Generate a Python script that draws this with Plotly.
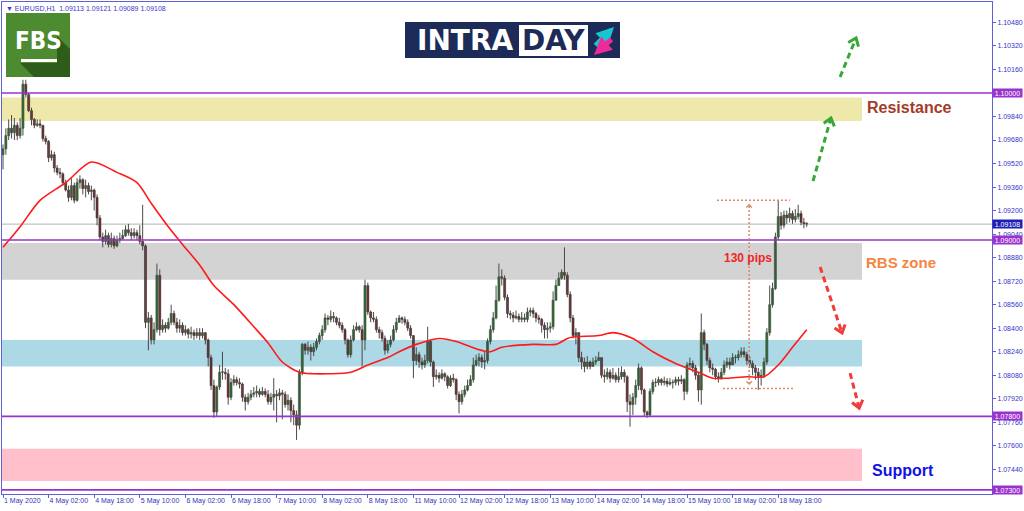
import math
import plotly.graph_objects as go

# ---------------- data (EURUSD H1) ----------------
first_open = 1.0958
close = [
    1.0962, 1.0971, 1.0976, 1.0973, 1.0978, 1.0971, 1.0976, 1.1006, 1.0999, 1.0988,
    1.0982, 1.0978, 1.0979, 1.0978, 1.0969, 1.0967, 1.0956, 1.0958, 1.0949, 1.0946,
    1.0945, 1.0939, 1.0934, 1.0929, 1.0937, 1.0927, 1.0939, 1.0941, 1.0935, 1.0937,
    1.0933, 1.0934, 1.0929, 1.0915, 1.0902, 1.0899, 1.0903, 1.0897, 1.0901, 1.0896,
    1.0900, 1.0901, 1.0903, 1.0907, 1.0905, 1.0903, 1.0905, 1.0903, 1.0899, 1.0896,
    1.0844, 1.0847, 1.0832, 1.0839, 1.0876, 1.0839, 1.0842, 1.0840, 1.0844, 1.0850,
    1.0844, 1.0840, 1.0842, 1.0837, 1.0839, 1.0836, 1.0837, 1.0835, 1.0837, 1.0835,
    1.0837, 1.0832, 1.0820, 1.0801, 1.0783, 1.0800, 1.0810, 1.0810, 1.0809, 1.0793,
    1.0803, 1.0805, 1.0803, 1.0802, 1.0793, 1.0790, 1.0793, 1.0795, 1.0796, 1.0797,
    1.0795, 1.0797, 1.0795, 1.0790, 1.0793, 1.0795, 1.0794, 1.0796, 1.0795, 1.0788,
    1.0791, 1.0784, 1.0781, 1.0774, 1.0810, 1.0829, 1.0825, 1.0827, 1.0824, 1.0827,
    1.0831, 1.0835, 1.0839, 1.0847, 1.0846, 1.0848, 1.0847, 1.0844, 1.0842, 1.0839,
    1.0832, 1.0822, 1.0832, 1.0839, 1.0841, 1.0839, 1.0832, 1.0869, 1.0851, 1.0847,
    1.0846, 1.0839, 1.0837, 1.0833, 1.0825, 1.0829, 1.0832, 1.0839, 1.0844, 1.0847,
    1.0846, 1.0844, 1.0840, 1.0835, 1.0818, 1.0822, 1.0817, 1.0815, 1.0818, 1.0831,
    1.0817, 1.0807, 1.0808, 1.0806, 1.0809, 1.0807, 1.0801, 1.0806, 1.0805, 1.0795,
    1.0790, 1.0795, 1.0798, 1.0801, 1.0805, 1.0815, 1.0818, 1.0820, 1.0817, 1.0818,
    1.0831, 1.0839, 1.0847, 1.0859, 1.0875, 1.0874, 1.0861, 1.0850, 1.0849, 1.0847,
    1.0848, 1.0846, 1.0847, 1.0846, 1.0851, 1.0852, 1.0850, 1.0847, 1.0846, 1.0842,
    1.0839, 1.0840, 1.0841, 1.0859, 1.0869, 1.0874, 1.0878, 1.0876, 1.0863, 1.0847,
    1.0835, 1.0837, 1.0820, 1.0817, 1.0814, 1.0817, 1.0814, 1.0817, 1.0818, 1.0820,
    1.0808, 1.0807, 1.0810, 1.0806, 1.0808, 1.0805, 1.0807, 1.0810, 1.0807, 1.0790,
    1.0788, 1.0793, 1.0801, 1.0813, 1.0798, 1.0783, 1.0781, 1.0797, 1.0803, 1.0803,
    1.0805, 1.0803, 1.0804, 1.0802, 1.0803, 1.0803, 1.0805, 1.0804, 1.0805, 1.0797,
    1.0815, 1.0816, 1.0813, 1.0808, 1.0798, 1.0837, 1.0829, 1.0818, 1.0813, 1.0812,
    1.0807, 1.0806, 1.0810, 1.0815, 1.0817, 1.0815, 1.0820, 1.0820, 1.0822, 1.0824,
    1.0822, 1.0818, 1.0816, 1.0813, 1.0810, 1.0807, 1.0808, 1.0817, 1.0837, 1.0856,
    1.0867, 1.0902, 1.0916, 1.0910, 1.0917, 1.0915, 1.0918, 1.0914, 1.0916, 1.0918,
    1.0912, 1.0911, 1.09108,
]
high = [
    1.0965, 1.0976, 1.0982, 1.0985, 1.0983, 1.0980, 1.0983, 1.1009, 1.1009, 1.1000,
    1.0990, 1.0983, 1.0982, 1.0982, 1.0973, 1.0971, 1.0968, 1.0961, 1.0960, 1.0951,
    1.0949, 1.0946, 1.0941, 1.0937, 1.0942, 1.0939, 1.0942, 1.0944, 1.0942, 1.0941,
    1.0939, 1.0937, 1.0935, 1.0931, 1.0917, 1.0905, 1.0907, 1.0905, 1.0905, 1.0903,
    1.0903, 1.0905, 1.0907, 1.0910, 1.0911, 1.0908, 1.0908, 1.0907, 1.0910, 1.0924,
    1.0897, 1.0851, 1.0849, 1.0844, 1.0884, 1.0880, 1.0846, 1.0844, 1.0847, 1.0856,
    1.0852, 1.0847, 1.0846, 1.0844, 1.0842, 1.0840, 1.0841, 1.0839, 1.0840, 1.0840,
    1.0840, 1.0837, 1.0833, 1.0822, 1.0805, 1.0801, 1.0815, 1.0824, 1.0813, 1.0812,
    1.0806, 1.0808, 1.0807, 1.0806, 1.0803, 1.0795, 1.0796, 1.0798, 1.0800, 1.0801,
    1.0799, 1.0800, 1.0799, 1.0798, 1.0796, 1.0806, 1.0798, 1.0799, 1.0798, 1.0797,
    1.0795, 1.0793, 1.0788, 1.0784, 1.0812, 1.0830, 1.0830, 1.0831, 1.0829, 1.0830,
    1.0833, 1.0837, 1.0842, 1.0850, 1.0849, 1.0852, 1.0851, 1.0848, 1.0847, 1.0844,
    1.0840, 1.0833, 1.0835, 1.0842, 1.0844, 1.0842, 1.0842, 1.0873, 1.0871, 1.0852,
    1.0851, 1.0848, 1.0841, 1.0839, 1.0835, 1.0832, 1.0835, 1.0842, 1.0847, 1.0849,
    1.0848, 1.0848, 1.0846, 1.0842, 1.0835, 1.0827, 1.0824, 1.0820, 1.0822, 1.0841,
    1.0832, 1.0818, 1.0812, 1.0810, 1.0812, 1.0810, 1.0808, 1.0808, 1.0809, 1.0806,
    1.0797, 1.0798, 1.0801, 1.0805, 1.0808, 1.0820, 1.0822, 1.0823, 1.0822, 1.0824,
    1.0833, 1.0842, 1.0851, 1.0869, 1.0884, 1.0880, 1.0876, 1.0863, 1.0852, 1.0851,
    1.0852, 1.0850, 1.0851, 1.0850, 1.0854, 1.0854, 1.0854, 1.0851, 1.0849, 1.0847,
    1.0844, 1.0844, 1.0844, 1.0865, 1.0873, 1.0878, 1.0880, 1.0895, 1.0878, 1.0865,
    1.0849, 1.0840, 1.0837, 1.0824, 1.0820, 1.0821, 1.0818, 1.0820, 1.0821, 1.0824,
    1.0820, 1.0812, 1.0813, 1.0812, 1.0813, 1.0810, 1.0813, 1.0814, 1.0812, 1.0808,
    1.0795, 1.0796, 1.0805, 1.0816, 1.0814, 1.0799, 1.0784, 1.0799, 1.0805, 1.0806,
    1.0807, 1.0806, 1.0807, 1.0806, 1.0806, 1.0805, 1.0807, 1.0807, 1.0808, 1.0806,
    1.0817, 1.0820, 1.0818, 1.0815, 1.0810, 1.0850, 1.0839, 1.0830, 1.0820, 1.0816,
    1.0813, 1.0810, 1.0813, 1.0818, 1.0820, 1.0820, 1.0823, 1.0822, 1.0825, 1.0827,
    1.0827, 1.0824, 1.0821, 1.0818, 1.0815, 1.0813, 1.0812, 1.0820, 1.0840, 1.0869,
    1.0871, 1.0905, 1.0927, 1.0919, 1.0920, 1.0920, 1.0922, 1.0920, 1.0921, 1.0924,
    1.0920, 1.0915, 1.09121,
]
low = [
    1.0948, 1.0958, 1.0968, 1.0969, 1.0968, 1.0968, 1.0969, 1.0971, 1.0997, 1.0987,
    1.0978, 1.0976, 1.0977, 1.0976, 1.0967, 1.0965, 1.0953, 1.0954, 1.0946, 1.0944,
    1.0942, 1.0937, 1.0933, 1.0926, 1.0927, 1.0925, 1.0926, 1.0935, 1.0931, 1.0929,
    1.0931, 1.0927, 1.0920, 1.0910, 1.0900, 1.0895, 1.0897, 1.0895, 1.0895, 1.0894,
    1.0895, 1.0898, 1.0900, 1.0902, 1.0903, 1.0900, 1.0901, 1.0900, 1.0897, 1.0893,
    1.0840, 1.0825, 1.0829, 1.0829, 1.0837, 1.0835, 1.0837, 1.0837, 1.0839, 1.0842,
    1.0842, 1.0837, 1.0837, 1.0835, 1.0835, 1.0833, 1.0833, 1.0832, 1.0833, 1.0832,
    1.0833, 1.0829, 1.0814, 1.0798, 1.0779, 1.0780, 1.0798, 1.0805, 1.0805, 1.0788,
    1.0791, 1.0801, 1.0801, 1.0799, 1.0790, 1.0784, 1.0788, 1.0791, 1.0793, 1.0793,
    1.0793, 1.0794, 1.0793, 1.0788, 1.0788, 1.0784, 1.0776, 1.0791, 1.0778, 1.0786,
    1.0784, 1.0776, 1.0774, 1.0764, 1.0771, 1.0808, 1.0822, 1.0822, 1.0818, 1.0821,
    1.0825, 1.0829, 1.0832, 1.0837, 1.0842, 1.0844, 1.0844, 1.0842, 1.0840, 1.0837,
    1.0829, 1.0820, 1.0820, 1.0831, 1.0838, 1.0837, 1.0814, 1.0825, 1.0849, 1.0844,
    1.0844, 1.0837, 1.0833, 1.0831, 1.0822, 1.0823, 1.0827, 1.0831, 1.0837, 1.0844,
    1.0843, 1.0842, 1.0838, 1.0833, 1.0806, 1.0815, 1.0813, 1.0812, 1.0813, 1.0816,
    1.0814, 1.0800, 1.0805, 1.0803, 1.0805, 1.0804, 1.0799, 1.0800, 1.0803, 1.0791,
    1.0782, 1.0788, 1.0793, 1.0797, 1.0801, 1.0803, 1.0814, 1.0814, 1.0813, 1.0812,
    1.0816, 1.0829, 1.0837, 1.0846, 1.0858, 1.0869, 1.0859, 1.0847, 1.0846, 1.0844,
    1.0846, 1.0844, 1.0844, 1.0844, 1.0844, 1.0848, 1.0847, 1.0844, 1.0843, 1.0837,
    1.0833, 1.0833, 1.0837, 1.0839, 1.0859, 1.0869, 1.0873, 1.0873, 1.0861, 1.0844,
    1.0833, 1.0829, 1.0817, 1.0812, 1.0810, 1.0812, 1.0812, 1.0814, 1.0815, 1.0818,
    1.0806, 1.0803, 1.0805, 1.0803, 1.0805, 1.0803, 1.0803, 1.0805, 1.0803, 1.0783,
    1.0773, 1.0781, 1.0788, 1.0798, 1.0795, 1.0780, 1.0779, 1.0780, 1.0795, 1.0800,
    1.0801, 1.0801, 1.0801, 1.0800, 1.0801, 1.0799, 1.0801, 1.0801, 1.0802, 1.0791,
    1.0795, 1.0812, 1.0810, 1.0805, 1.0790, 1.0788, 1.0825, 1.0815, 1.0810, 1.0808,
    1.0805, 1.0803, 1.0805, 1.0808, 1.0813, 1.0812, 1.0817, 1.0816, 1.0818, 1.0820,
    1.0820, 1.0815, 1.0813, 1.0808, 1.0805, 1.0798, 1.0801, 1.0806, 1.0815, 1.0835,
    1.0854, 1.0866, 1.0900, 1.0907, 1.0908, 1.0911, 1.0912, 1.0911, 1.0912, 1.0914,
    1.0910, 1.0908, 1.09089,
]

# moving average (red line), read at selected bars
ma_bar = [0, 6, 13, 22, 31, 40, 47, 52, 58, 63, 69, 74, 81, 88, 93, 98, 104, 109, 114, 122,
          128, 135, 139, 145, 153, 159, 166, 171, 175, 186, 194, 198, 200, 209, 214, 221, 228,
          236, 244, 249, 254, 261, 267, 272, 277, 282]
ma_val = [1.0895, 1.0909, 1.0927, 1.0939, 1.0953, 1.0946, 1.0939, 1.0925, 1.0909, 1.0897,
          1.0883, 1.0869, 1.0856, 1.0841, 1.0830, 1.0817, 1.0810, 1.0809, 1.0809, 1.0810,
          1.0815, 1.0820, 1.0824, 1.0829, 1.0833, 1.0831, 1.0826, 1.0824, 1.0827, 1.0829,
          1.0829, 1.0833, 1.0834, 1.0835, 1.0837, 1.0833, 1.0824, 1.0816, 1.0810, 1.0806,
          1.0806, 1.0807, 1.0807, 1.0815, 1.0827, 1.0839]

tick_bars = [0, 16, 32, 48, 64, 80, 96, 112, 128, 144, 160, 176, 192, 208, 224, 240, 256, 272]
tick_labels = ["1 May 2020", "4 May 02:00", "4 May 18:00", "5 May 10:00", "6 May 02:00",
               "6 May 18:00", "7 May 10:00", "8 May 02:00", "8 May 18:00", "11 May 10:00",
               "12 May 02:00", "12 May 18:00", "13 May 10:00", "14 May 02:00", "14 May 18:00",
               "15 May 10:00", "18 May 02:00", "18 May 18:00"]

price_ticks = [1.0728, 1.0744, 1.0760, 1.0776, 1.0792, 1.0808, 1.0824, 1.0840, 1.0856, 1.0872,
               1.0888, 1.0904, 1.0920, 1.0936, 1.0952, 1.0968, 1.0984, 1.1000, 1.1016, 1.1032,
               1.1048]

zone_names = ["Resistance", "RBS zone", "Blue zone", "Support"]
zone_lo = [1.0981, 1.0873, 1.0814, 1.0736]
zone_hi = [1.0997, 1.0898, 1.0832, 1.0758]
zone_colors = ["#EEE8AA", "#D3D3D3", "#ADD8E6", "#FFC0CB"]
zone_end_bar = 301.4

levels = [1.10000, 1.09000, 1.07800, 1.07300]
last_price = 1.09108
header = "EURUSD,H1  1.09113 1.09121 1.09089 1.09108"

# ---------------- geometry ----------------
W, H = 1024, 511
ML, MR, MT, MB = 2, 32, 2, 17
PW, PH = W - ML - MR, H - MT - MB
X0, X1 = -0.35, 347.0
Y0, Y1 = 1.072721, 1.106190


def to_px(x, y):
    return ML + (x - X0) / (X1 - X0) * PW, MT + (Y1 - y) / (Y1 - Y0) * PH


def to_data(px, py):
    return X0 + (px - ML) / PW * (X1 - X0), Y1 - (py - MT) / PH * (Y1 - Y0)


def pp(px, py):  # pixel -> paper
    return (px - ML) / PW, (H - MB - py) / PH


n = len(close)
xs = list(range(n))
opens = [first_open] + close[:-1]
hi = [max(h, o, c) for h, o, c in zip(high, opens, close)]
lo = [min(l, o, c) for l, o, c in zip(low, opens, close)]

fig = go.Figure()

# wicks
wx, wy = [], []
for i in xs:
    wx += [i, i, None]
    wy += [lo[i], hi[i], None]
fig.add_trace(go.Scatter(x=wx, y=wy, mode="lines", line=dict(color="#4a4a4a", width=1),
                         hoverinfo="skip"))

# bodies
base = [min(o, c) for o, c in zip(opens, close)]
height = [max(abs(c - o), 0.00004) for o, c in zip(opens, close)]
colors = ["#1f9a1f" if c >= o else "#8e1111" for o, c in zip(opens, close)]
fig.add_trace(go.Bar(x=xs, y=height, base=base, width=0.72, marker=dict(color=colors,
                     line=dict(color="#262626", width=0.5)), hoverinfo="skip"))

# moving average
fig.add_trace(go.Scatter(x=ma_bar, y=ma_val, mode="lines",
                         line=dict(color="#ff1a1a", width=1.6, shape="spline", smoothing=0.8),
                         hoverinfo="skip"))

shapes = []
for zl, zh, zc in zip(zone_lo, zone_hi, zone_colors):
    shapes.append(dict(type="rect", xref="x", yref="y", x0=X0, x1=zone_end_bar, y0=zl, y1=zh,
                       fillcolor=zc, line=dict(width=0), layer="below"))
shapes.append(dict(type="line", xref="paper", yref="y", x0=0, x1=1, y0=last_price, y1=last_price,
                   line=dict(color="#b4b4b4", width=1), layer="below"))
for lv in levels:
    shapes.append(dict(type="line", xref="paper", yref="y", x0=0, x1=1, y0=lv, y1=lv,
                       line=dict(color="#9a32cd", width=1.6), layer="above"))


def chevron(tip, tail, color, width, length=9, ang=38):
    tx, ty = to_px(*tip)
    fx, fy = to_px(*tail)
    dx, dy = fx - tx, fy - ty
    L = math.hypot(dx, dy)
    ux, uy = dx / L, dy / L
    pts = []
    for s in (1, -1):
        a = math.radians(ang) * s
        rx = ux * math.cos(a) - uy * math.sin(a)
        ry = ux * math.sin(a) + uy * math.cos(a)
        pts.append(to_data(tx + rx * length, ty + ry * length))
    p = "M {} {} L {} {} L {} {}".format(pts[0][0], pts[0][1], tip[0], tip[1], pts[1][0], pts[1][1])
    return dict(type="path", xref="x", yref="y", path=p, line=dict(color=color, width=width),
                layer="above")


arrows = [
    ((284.2, 1.09401), (290.5, 1.09830), "#36a836"),
    ((293.7, 1.10109), (299.3, 1.10374), "#36a836"),
    ((286.7, 1.08816), (294.4, 1.08367), "#f23c3c"),
    ((297.2, 1.08095), (300.4, 1.07857), "#f23c3c"),
]
for tail, tip, col in arrows:
    shapes.append(dict(type="line", xref="x", yref="y", x0=tail[0], y0=tail[1], x1=tip[0], y1=tip[1],
                       line=dict(color=col, width=3, dash="6px,4px"), layer="above"))
    shapes.append(chevron(tip, tail, col, 3))

pc = "#d98a66"
shapes.append(dict(type="line", xref="x", yref="y", x0=250.5, x1=276.1, y0=1.0927, y1=1.0927,
                   line=dict(color=pc, width=1.5, dash="2px,2px")))
shapes.append(dict(type="line", xref="x", yref="y", x0=252.6, x1=277.9, y0=1.0799, y1=1.0799,
                   line=dict(color=pc, width=1.5, dash="2px,2px")))
shapes.append(dict(type="line", xref="x", yref="y", x0=261.8, x1=261.8, y0=1.0802, y1=1.0924,
                   line=dict(color=pc, width=1.5, dash="2px,2px")))
shapes.append(chevron((261.8, 1.0924), (261.8, 1.0802), pc, 1.2, length=4, ang=45))
shapes.append(chevron((261.8, 1.0802), (261.8, 1.0924), pc, 1.2, length=4, ang=45))

# FBS logo
a = pp(6, 13); b = pp(70, 77)
shapes.append(dict(type="rect", xref="paper", yref="paper", x0=a[0], y0=b[1], x1=b[0], y1=a[1],
                   fillcolor="#4c8b30", line=dict(width=0)))
poly = [pp(20, 63), pp(57, 63), pp(57, 36), pp(70, 49), pp(70, 77), pp(34, 77)]
path = "M " + " L ".join("{} {}".format(px, py) for px, py in poly) + " Z"
shapes.append(dict(type="path", xref="paper", yref="paper", path=path, fillcolor="#2e5c1b",
                   line=dict(width=0)))
a = pp(21, 59); b = pp(57, 62)
shapes.append(dict(type="rect", xref="paper", yref="paper", x0=a[0], y0=b[1], x1=b[0], y1=a[1],
                   fillcolor="white", line=dict(width=0)))
# INTRADAY logo
a = pp(405, 22); b = pp(620, 58)
shapes.append(dict(type="rect", xref="paper", yref="paper", x0=a[0], y0=b[1], x1=b[0], y1=a[1],
                   fillcolor="#1c2b58", line=dict(width=0)))
a = pp(519, 25); b = pp(588, 56)
shapes.append(dict(type="rect", xref="paper", yref="paper", x0=a[0], y0=b[1], x1=b[0], y1=a[1],
                   fillcolor="white", line=dict(width=0)))

annotations = []
for lv in levels:
    annotations.append(dict(xref="paper", yref="y", x=1, y=lv, xanchor="left", yanchor="middle",
                            text="{:.5f}".format(lv), showarrow=False, bgcolor="#9a32cd",
                            font=dict(family="Liberation Sans", size=7, color="white"),
                            width=29, height=8, borderpad=0))
annotations.append(dict(xref="paper", yref="y", x=1, y=last_price, xanchor="left", yanchor="middle",
                        text="{:.5f}".format(last_price), showarrow=False, bgcolor="#1e1eb4",
                        font=dict(family="Liberation Sans", size=7, color="white"),
                        width=29, height=8, borderpad=0))
hx, hy = pp(4, 8)
annotations.append(dict(xref="paper", yref="paper", x=hx, y=hy, xanchor="left", yanchor="middle",
                        text="▼ " + header, showarrow=False,
                        font=dict(family="Liberation Sans", size=7, color="#3a3ac8")))
lab_font = "Liberation Sans"
annotations.append(dict(x=318.2, y=1.09898, text="<b>Resistance</b>", showarrow=False,
                        font=dict(family=lab_font, size=16, color="#a53b28")))
annotations.append(dict(x=315.1, y=1.08850, text="<b>RBS zone</b>", showarrow=False,
                        font=dict(family=lab_font, size=15, color="#f7843f")))
annotations.append(dict(x=315.8, y=1.07435, text="<b>Support</b>", showarrow=False,
                        font=dict(family=lab_font, size=16, color="#1212e6")))
annotations.append(dict(x=261.4, y=1.08878, text="<b>130 pips</b>", showarrow=False,
                        font=dict(family=lab_font, size=12, color="#f02525")))
fx, fy = pp(38, 41)
annotations.append(dict(xref="paper", yref="paper", x=fx, y=fy, xanchor="center", yanchor="middle",
                        text="<b>FBS</b>", showarrow=False,
                        font=dict(family="DejaVu Sans Condensed, Liberation Sans Narrow, Liberation Sans",
                                  size=24, color="white")))
ix, iy = pp(465, 41)
annotations.append(dict(xref="paper", yref="paper", x=ix, y=iy, xanchor="center", yanchor="middle",
                        text="<b>INTRA</b>", showarrow=False,
                        font=dict(family="DejaVu Sans", size=28, color="white")))
ix, iy = pp(553, 41)
annotations.append(dict(xref="paper", yref="paper", x=ix, y=iy, xanchor="center", yanchor="middle",
                        text="<b>DAY</b>", showarrow=False,
                        font=dict(family="DejaVu Sans", size=28, color="#1c2b58")))
ax_, ay_ = pp(614, 27)
annotations.append(dict(xref="paper", yref="paper", x=ax_, y=ay_, ax=-20, ay=20, text="",
                        showarrow=True, arrowhead=2, arrowsize=0.7, arrowwidth=5,
                        arrowcolor="#19c6cf"))
ax_, ay_ = pp(594, 55)
annotations.append(dict(xref="paper", yref="paper", x=ax_, y=ay_, ax=19, ay=-17, text="",
                        showarrow=True, arrowhead=2, arrowsize=0.7, arrowwidth=5,
                        arrowcolor="#ee2a9b"))

# tick labels hidden where a level box sits on top of them
covered = set(levels)
price_tick_text = ["" if any(abs(t - lv) < 1e-9 for lv in covered) or abs(t - 1.0728) < 1e-9
                   else "{:.5f}".format(t) for t in price_ticks]

axis_blue = "#5f5fd8"
fig.update_layout(
    width=W, height=H,
    margin=dict(l=ML, r=MR, t=MT, b=MB, pad=0, autoexpand=False),
    plot_bgcolor="white", paper_bgcolor="white",
    showlegend=False, hovermode=False,
    shapes=shapes, annotations=annotations,
    xaxis=dict(range=[X0, X1], showgrid=False, zeroline=False, showline=True, mirror=True,
               linecolor=axis_blue, linewidth=1, ticks="outside", ticklen=3, tickcolor=axis_blue,
               tickvals=tick_bars, ticktext=tick_labels, ticklabelposition="outside right",
               tickangle=0, automargin=False,
               tickfont=dict(family="Liberation Sans", size=7, color="#3434b8"), fixedrange=True),
    yaxis=dict(range=[Y0, Y1], side="right", showgrid=False, zeroline=False, showline=True,
               mirror=True, linecolor=axis_blue, linewidth=1, ticks="outside", ticklen=3,
               tickcolor=axis_blue, tickvals=price_ticks, automargin=False,
               ticktext=price_tick_text,
               tickfont=dict(family="Liberation Sans", size=7, color="#3434c8"), fixedrange=True),
)

fig.write_html("out.html", config={"displayModeBar": False},
               post_script="document.body.style.margin='0';document.body.style.overflow='hidden';")
